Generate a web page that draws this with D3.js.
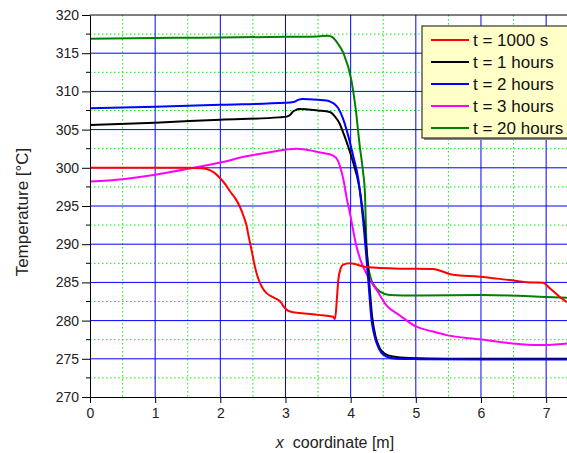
<!DOCTYPE html>
<html><head><meta charset="utf-8">
<script src="https://cdn.jsdelivr.net/npm/d3@7"></script>
<style>body{margin:0;background:#fff}svg{display:block;font-family:"Liberation Sans",Arial,sans-serif}</style>
</head><body><svg id="c" width="567" height="453"></svg>
<script>
const seriesNames = ["t = 1000 s","t = 1 hours","t = 2 hours","t = 3 hours","t = 20 hours"];
const seriesColors = ["#ff0000","#000000","#0000ff","#ff00ff","#008000"];
const xTicks = [0,1,2,3,4,5,6,7];
const yTicks = [270,275,280,285,290,295,300,305,310,315,320];

const redX = [0,1,1.5,1.7,1.79,1.9,1.99,2.08,2.15,2.23,2.30,2.36,2.40,2.44,2.48,2.53,2.57,2.61,2.66,2.71,2.8,2.89,2.93,2.96,3.02,3.07,3.22,3.5,3.73,3.76,3.79,3.81,3.85,3.88,3.99,4.24,4.75,5.27,5.42,5.57,5.98,6.44,6.75,6.95,7.06,7.21,7.32];
const redY = [300,300,300,299.95,299.85,299.4,298.7,297.8,296.9,296.0,294.9,293.6,292.5,290.8,289.2,287.1,285.8,284.9,284.1,283.6,283.1,282.7,282.4,282.0,281.4,281.2,281.0,280.75,280.5,280.2,283.0,285.3,286.9,287.3,287.5,287.0,286.8,286.75,286.4,286.0,285.75,285.3,285.0,284.95,284.2,283.1,282.4];

const blackX = [0,1,2,2.9,3.02,3.07,3.12,3.17,3.2,3.5,3.68,3.76,3.83,3.89,4.01,4.14,4.21,4.28,4.33,4.38,4.44,4.52,4.65,4.9,5.5,7.32];
const blackY = [305.6,305.9,306.3,306.6,306.7,306.9,307.4,307.6,307.7,307.5,307.3,306.7,305.8,304.5,301.5,297.1,292.5,285.5,280.5,278.0,276.5,275.7,275.3,275.1,275.0,275.0];

const blueX = [0,1,2,3.0,3.12,3.2,3.25,3.5,3.63,3.7,3.76,3.81,3.88,3.94,4.04,4.12,4.19,4.27,4.32,4.36,4.40,4.47,4.55,4.7,5.06,6,7.32];
const blueY = [307.8,308.0,308.25,308.5,308.6,308.9,309.0,308.9,308.8,308.6,308.3,307.8,306.5,304.9,301.5,298.4,293.2,285.3,280.1,278.2,277.0,275.8,275.3,275.0,274.95,274.9,274.9];

const magX = [0,0.5,1.0,1.53,2.0,2.4,2.8,3.02,3.17,3.3,3.43,3.6,3.73,3.8,3.85,3.89,3.94,3.99,4.09,4.16,4.24,4.32,4.40,4.55,4.75,5.01,5.25,5.47,5.98,6.49,6.9,7.1,7.32];
const magY = [298.2,298.5,299.1,299.9,300.7,301.5,302.1,302.4,302.5,302.4,302.2,301.9,301.6,301.0,299.8,298.4,296.0,294.0,289.7,287.7,286.2,285.0,284.0,282.0,280.7,279.2,278.6,278.1,277.55,277.0,276.8,276.85,277.0];

const greenX = [0,1,2,3,3.5,3.65,3.72,3.8,3.89,4.01,4.08,4.14,4.19,4.22,4.24,4.27,4.31,4.37,4.45,4.6,4.8,5.06,6.0,7.0,7.32];
const greenY = [316.9,317.0,317.05,317.15,317.2,317.3,317.1,316.3,315.0,311.5,307.5,302.8,299.5,296.5,290.5,287.2,285.5,284.5,283.8,283.35,283.3,283.3,283.35,283.1,283.0];

const seriesX = [redX,blackX,blueX,magX,greenX];
const seriesY = [redY,blackY,blueY,magY,greenY];

const L=90,R=567,T=15,B=397;
const x = d3.scaleLinear().domain([0,7.32]).range([L,R]);
const y = d3.scaleLinear().domain([270,320]).range([B,T]);
const svg = d3.select("#c");

svg.append("defs").append("clipPath").attr("id","clip").append("rect").attr("x",L).attr("y",T).attr("width",R-L).attr("height",B-T);

// minor grid
const g = svg.append("g");
for(let v=0.5; v<7.32; v+=1) g.append("line").attr("x1",x(v)).attr("x2",x(v)).attr("y1",T).attr("y2",B).attr("stroke","#00ee00").attr("stroke-dasharray","1.5,2.5");
for(let v=272.5; v<320; v+=5) g.append("line").attr("x1",L).attr("x2",R).attr("y1",y(v)).attr("y2",y(v)).attr("stroke","#00ee00").attr("stroke-dasharray","1.5,2.5");
// major grid
xTicks.filter(v=>v>0).forEach(v=>g.append("line").attr("x1",x(v)).attr("x2",x(v)).attr("y1",T).attr("y2",B).attr("stroke","#0000ff").attr("stroke-width",1));
yTicks.filter(v=>v>270&&v<320).forEach(v=>g.append("line").attr("x1",L).attr("x2",R).attr("y1",y(v)).attr("y2",y(v)).attr("stroke","#0000ff").attr("stroke-width",1));

// curves
const line = d3.line().x(d=>x(d[0])).y(d=>y(d[1])).curve(d3.curveMonotoneX);
const order=[4,3,1,2,0];
const cg = svg.append("g").attr("clip-path","url(#clip)");
order.forEach(i=>{
  const pts = seriesX[i].map((v,j)=>[v,seriesY[i][j]]);
  cg.append("path").attr("d",line(pts)).attr("fill","none").attr("stroke",seriesColors[i]).attr("stroke-width",2).attr("stroke-linejoin","round");
});

// axes
const FF="Liberation Sans, Arial, sans-serif";
const xAxis = d3.axisBottom(x).tickValues(xTicks).tickSize(6).tickSizeOuter(0).tickPadding(5).tickFormat(d3.format("d"));
const ax = svg.append("g").attr("transform",`translate(0,${B})`).call(xAxis);
ax.select(".domain").attr("stroke","#000");
ax.selectAll("text").attr("font-size",14).attr("fill","#222").attr("font-family",FF);
const yAxis = d3.axisLeft(y).tickValues(yTicks).tickSize(8).tickSizeOuter(0).tickPadding(3).tickFormat(d3.format("d"));
const ay = svg.append("g").attr("transform",`translate(${L},0)`).call(yAxis);
ay.selectAll("text").attr("font-size",14).attr("fill","#222").attr("font-family",FF);
const yMinor = d3.range(272.5,320,5);
ay.selectAll(".mt").data(yMinor).enter().append("line").attr("x1",-4).attr("x2",0).attr("y1",d=>y(d)).attr("y2",d=>y(d)).attr("stroke","#000");
svg.append("line").attr("x1",L).attr("x2",R).attr("y1",T).attr("y2",T).attr("stroke","#000");

// titles
svg.append("text").attr("x",335).attr("y",448).attr("text-anchor","middle").attr("font-size",16).attr("fill","#222").attr("xml:space","preserve")
  .html('<tspan font-style="italic">x</tspan>  coordinate [m]');
svg.append("text").attr("transform","translate(28,212) rotate(-90)").attr("text-anchor","middle").attr("font-size",17).attr("fill","#222").text("Temperature [°C]");

// legend
const lg = svg.append("g");
lg.append("rect").attr("x",424).attr("y",28).attr("width",150).attr("height",112).attr("fill","#888");
lg.append("rect").attr("x",422).attr("y",26).attr("width",150).attr("height",112).attr("fill","#ffffc8").attr("stroke","#333").attr("stroke-width",1.2);
seriesNames.forEach((n,i)=>{
  const yy = 40 + i*22;
  lg.append("line").attr("x1",431).attr("x2",469).attr("y1",yy).attr("y2",yy).attr("stroke",seriesColors[i]).attr("stroke-width",2);
  lg.append("text").attr("x",473).attr("y",yy+6).attr("font-size",17).attr("fill","#111").text(n);
});
</script></body></html>
